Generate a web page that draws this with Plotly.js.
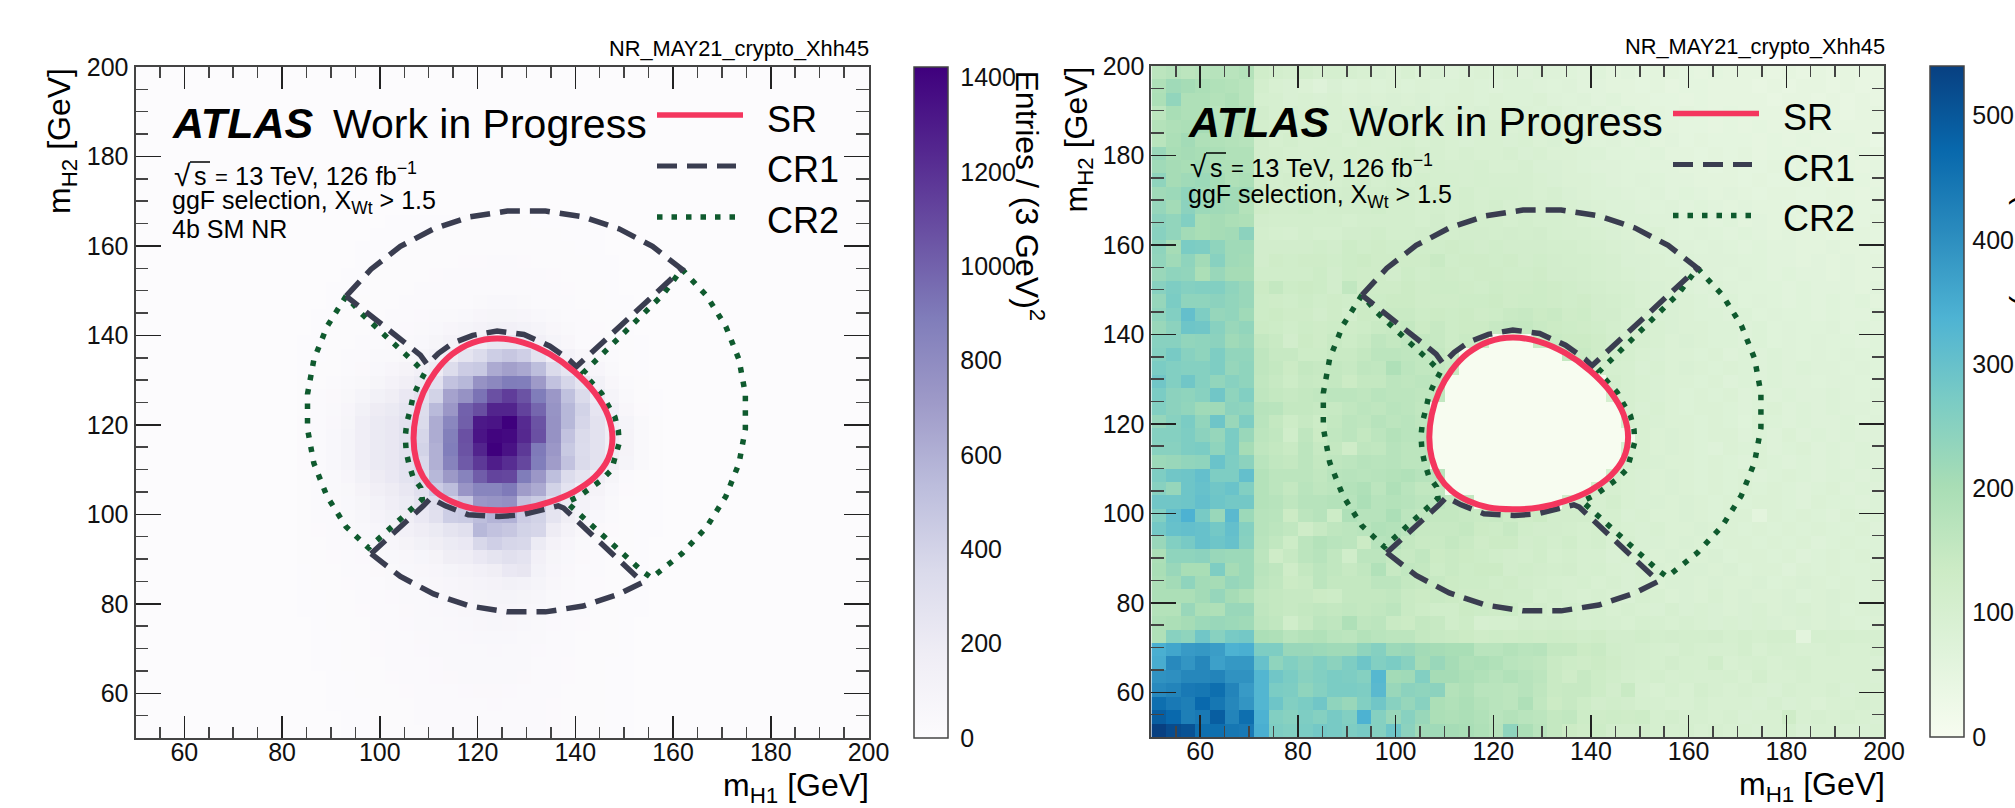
<!DOCTYPE html>
<html><head><meta charset="utf-8">
<script src="https://cdn.plot.ly/plotly-3.0.1.min.js"></script>
<style>html,body{margin:0;padding:0;background:#fff}</style></head>
<body><div id="chart" style="width:2015px;height:808px"></div>
<script>
// Bin centres of the 3 GeV bins (50 per axis)
const binCentres = [51.5,54.5,57.5,60.5,63.5,66.5,69.5,72.5,75.5,78.5,81.5,84.5,87.5,90.5,93.5,96.5,99.5,102.5,105.5,108.5,111.5,114.5,117.5,120.5,123.5,126.5,129.5,132.5,135.5,138.5,141.5,144.5,147.5,150.5,153.5,156.5,159.5,162.5,165.5,168.5,171.5,174.5,177.5,180.5,183.5,186.5,189.5,192.5,195.5,198.5];

// Left panel: signal entries. Rows start at the bottom; each row lists bins 11..38, the rest sit at the floor value.
const signalFloor = 4;
const signalFirstBin = 11;
const signalRows = [
[4,4,6,8,10,12,14,16,18,22,24,26,26,26,26,24,22,20,16,14,12,10,8,6,6,4,4,4],
[4,6,6,8,10,12,14,18,22,24,26,28,28,30,28,26,22,20,18,14,12,10,8,6,6,4,4,4],
[4,6,8,8,10,12,16,18,22,26,28,30,30,32,30,28,24,20,18,14,12,10,8,6,6,4,4,4],
[4,6,8,10,12,14,18,20,24,28,30,32,34,34,32,30,26,22,18,14,12,10,8,6,6,4,4,4],
[6,6,8,10,14,16,20,24,28,32,34,36,38,38,36,34,28,24,20,16,12,10,8,6,6,4,4,4],
[6,8,10,12,14,18,22,26,30,32,36,38,40,42,40,36,30,26,20,16,14,10,8,6,6,4,4,4],
[6,8,10,12,16,20,22,28,32,36,38,42,44,46,44,38,32,26,22,18,14,12,8,6,6,4,4,4],
[6,8,10,14,16,20,24,30,34,38,42,46,50,52,50,42,36,28,24,18,14,12,8,6,6,4,4,4],
[6,8,12,14,18,22,26,32,36,42,46,50,58,62,60,50,42,32,26,20,16,12,10,6,6,4,4,4],
[8,10,12,16,20,24,28,34,40,46,52,60,66,72,72,60,48,36,28,22,16,14,10,8,6,4,4,4],
[8,10,14,18,22,26,32,38,44,52,62,70,80,90,90,80,62,44,32,24,18,14,10,8,6,4,4,4],
[10,12,16,20,24,30,36,42,50,60,72,84,98,110,130,120,90,60,40,28,20,16,12,8,6,6,4,4],
[10,14,18,22,28,34,40,48,60,72,90,110,135,170,220,240,120,70,46,30,22,16,12,8,6,6,4,4],
[12,16,20,26,32,40,48,60,76,100,170,180,220,260,300,270,140,80,50,34,24,18,12,8,6,6,4,4],
[14,18,24,30,38,50,70,100,130,170,200,220,370,420,380,370,200,110,70,40,26,18,14,10,6,6,4,4],
[16,20,26,38,52,70,100,140,180,210,260,300,560,500,470,400,380,190,110,60,34,20,14,10,8,6,4,4],
[16,22,30,44,64,96,130,170,220,300,430,450,530,580,590,440,400,260,170,90,50,26,16,10,8,6,4,4],
[16,24,34,50,80,120,160,200,260,320,390,470,730,750,770,500,450,320,210,120,70,36,16,10,8,6,4,4],
[18,26,36,56,100,150,190,230,300,440,530,740,840,840,900,700,630,400,270,170,100,50,20,12,8,6,4,4],
[18,26,40,70,130,190,220,270,340,560,720,850,1020,1120,1110,890,730,520,340,260,170,80,30,12,8,6,4,4],
[20,30,50,90,160,210,230,280,360,600,850,1030,1170,1290,1220,1110,880,700,500,350,280,170,90,40,12,6,4,4],
[20,30,50,90,160,210,230,280,400,600,880,1060,1260,1422,1340,1170,900,730,460,340,280,180,100,40,12,6,4,4],
[20,30,50,90,160,210,230,280,380,620,870,1070,1330,1400,1380,1240,1070,760,500,350,280,180,100,40,12,6,4,4],
[20,30,46,80,160,210,230,280,350,620,830,1010,1310,1330,1420,1230,1060,760,560,380,280,170,90,40,12,6,4,4],
[18,26,40,70,130,190,210,250,330,550,730,1000,1080,1260,1260,1130,980,750,560,400,250,140,60,20,8,6,4,4],
[14,22,34,56,90,130,170,220,280,400,670,760,930,1070,1150,1060,890,730,510,350,200,90,40,14,8,6,4,4],
[12,16,24,36,56,80,110,150,200,290,500,560,760,820,890,880,710,500,380,260,130,60,24,12,6,6,4,4],
[10,12,18,26,34,48,70,100,140,190,330,440,460,630,680,640,530,350,250,120,70,36,16,10,6,4,4,4],
[8,10,16,22,28,36,44,56,80,120,190,260,340,430,470,420,280,180,110,60,40,24,14,8,6,4,4,4],
[8,10,14,18,22,28,34,40,50,80,110,130,180,230,240,220,140,90,60,30,24,16,12,8,6,4,4,4],
[6,8,12,14,18,22,26,32,40,50,70,90,110,130,140,120,90,60,40,28,20,14,10,6,6,4,4,4],
[6,8,10,12,16,18,22,26,32,36,40,50,70,80,80,70,50,40,30,22,16,12,8,6,6,4,4,4],
[6,6,8,10,12,16,18,22,26,28,30,30,40,50,50,40,30,28,24,18,14,10,8,6,4,4,4,4],
[4,6,8,8,10,14,16,18,22,24,26,28,30,30,30,30,26,24,20,16,12,10,6,6,4,4,4,4],
[4,6,6,8,10,12,14,16,18,20,22,22,24,26,26,24,22,20,18,14,10,8,6,6,4,4,4,4],
[4,4,6,6,8,10,12,14,16,18,18,20,20,22,22,20,18,16,14,12,10,8,6,4,4,4,4,4],
[4,4,6,6,8,8,10,12,14,14,16,16,18,18,18,16,16,14,12,10,8,6,6,4,4,4,4,4],
[4,4,4,6,6,8,8,10,10,12,12,14,14,14,14,14,12,12,10,8,8,6,4,4,4,4,4,4],
[4,4,4,4,6,6,8,8,10,10,10,12,12,12,12,12,10,10,8,8,6,6,4,4,4,4,4,4]
];

// Right panel: data entries with the SR blinded. Rows start at the bottom.
const dataRows = [
[540,520,510,460,460,445,440,345,265,260,270,280,275,265,275,255,290,245,215,215,205,200,190,175,240,195,170,150,135,125,130,115,115,115,105,100,105,95,100,95,95,90,95,105,90,95,95,90,90,95],
[490,470,430,440,490,420,460,340,260,250,265,255,275,260,340,255,225,250,225,195,190,195,185,170,180,170,165,150,155,130,125,130,125,130,105,110,100,100,95,100,90,95,95,125,95,100,95,100,95,90],
[460,440,430,470,445,415,390,330,290,260,270,285,240,225,260,285,250,230,250,195,185,195,180,170,165,190,155,135,145,130,115,120,115,105,100,95,95,105,95,95,95,90,100,90,95,85,95,95,100,95],
[410,420,440,445,460,420,380,330,270,265,240,255,270,270,265,320,225,245,240,245,180,190,170,170,165,175,160,140,145,145,130,115,140,100,95,105,95,110,100,95,100,95,90,100,95,95,100,90,95,95],
[395,400,415,415,420,395,395,330,285,270,250,260,270,265,255,325,210,215,260,205,205,195,185,175,185,175,165,140,125,145,130,120,110,105,110,100,105,100,100,105,95,110,95,95,100,95,95,95,95,90],
[350,410,390,415,370,385,385,300,240,260,245,260,245,265,290,260,270,250,205,225,205,190,195,185,170,165,160,140,130,125,135,125,115,110,105,115,105,105,120,95,100,105,95,100,105,95,95,95,95,90],
[345,360,380,385,375,340,345,265,265,225,225,220,215,215,240,255,220,225,210,205,200,200,170,170,180,170,175,150,150,135,140,120,115,110,105,100,110,105,100,100,110,95,105,100,95,95,100,95,95,100],
[190,250,240,285,250,275,280,195,190,170,180,185,170,165,180,170,165,165,150,145,140,135,125,130,125,130,125,130,125,120,125,115,115,120,110,115,110,110,115,105,110,105,110,110,60,105,100,105,100,100],
[190,195,205,220,225,220,215,165,155,120,145,165,160,190,160,165,140,135,150,145,120,130,100,105,105,115,110,115,110,100,105,100,95,105,100,95,100,95,90,95,90,95,90,85,90,85,90,85,80,85],
[180,180,225,195,190,225,225,160,150,145,150,155,150,155,150,155,165,140,130,120,120,135,130,125,130,110,115,105,110,100,105,95,100,95,90,100,90,95,90,85,90,95,85,90,95,85,90,80,85,90],
[195,195,195,210,230,205,190,155,150,145,145,135,130,150,150,150,155,140,135,140,135,125,125,125,120,120,105,110,100,95,100,95,90,100,95,85,90,85,95,85,90,85,85,90,80,85,90,85,80,85],
[195,210,240,210,205,230,220,165,155,135,140,165,150,150,150,165,165,150,145,145,135,130,130,120,125,115,110,105,100,105,95,100,90,95,85,90,90,85,90,85,85,90,80,85,90,85,80,85,80,85],
[200,225,200,200,265,205,220,170,160,125,150,165,155,145,155,185,145,155,150,130,140,130,135,135,115,120,115,110,115,100,105,95,90,95,90,85,90,90,85,90,80,85,85,75,85,80,85,80,80,85],
[195,240,240,245,225,220,220,165,125,145,165,175,155,120,165,165,150,145,155,135,140,135,130,120,115,110,120,105,110,100,100,90,95,90,85,90,85,85,90,80,85,85,80,85,75,80,85,80,85,80],
[225,260,275,300,290,300,250,170,155,130,165,180,170,165,135,175,180,150,140,140,150,140,125,135,135,115,120,110,120,105,110,95,100,90,90,85,90,85,80,85,85,80,85,80,85,75,80,85,80,80],
[280,300,305,300,280,305,255,175,165,155,125,145,160,165,170,185,180,165,145,145,145,150,135,130,145,120,115,115,110,105,110,100,95,90,95,85,85,90,85,85,80,85,80,85,80,85,80,80,85,75],
[260,305,340,275,225,320,220,175,170,135,165,175,130,190,175,175,195,165,155,150,150,145,140,145,130,125,135,115,115,115,100,105,90,95,85,85,90,85,80,85,85,60,85,80,85,80,75,85,80,80],
[285,285,290,305,290,280,280,180,175,160,175,175,180,175,195,175,180,175,165,165,150,150,0,0,0,0,0,0,115,115,100,110,95,90,90,85,90,85,80,85,80,85,85,80,75,85,80,80,75,80],
[250,230,290,300,285,295,260,180,165,150,170,160,165,180,190,165,190,170,155,155,0,0,0,0,0,0,0,0,0,0,105,100,95,90,85,90,85,80,85,80,85,80,85,80,75,80,85,75,80,75],
[265,285,290,305,265,265,305,180,165,165,165,155,170,175,170,175,180,185,175,170,0,0,0,0,0,0,0,0,0,0,0,105,95,90,85,90,85,80,85,80,85,75,80,85,80,75,80,80,75,80],
[220,225,235,240,295,265,245,170,155,150,165,150,160,165,175,170,175,165,165,0,0,0,0,0,0,0,0,0,0,0,0,0,100,95,90,85,85,80,85,80,75,85,80,75,80,75,80,75,80,75],
[250,250,265,270,240,270,205,160,150,140,165,145,150,125,160,155,175,165,165,0,0,0,0,0,0,0,0,0,0,0,0,0,100,95,85,90,85,80,75,85,80,85,75,80,85,75,80,75,80,75],
[255,255,265,245,230,270,225,165,155,120,160,135,155,165,150,165,180,170,170,0,0,0,0,0,0,0,0,0,0,0,0,0,0,95,85,90,85,80,85,85,75,80,75,85,75,80,75,80,75,75],
[230,250,270,235,290,225,265,170,150,130,145,130,150,165,160,175,165,170,160,0,0,0,0,0,0,0,0,0,0,0,0,0,105,95,90,85,85,80,85,80,70,85,80,75,80,75,75,80,70,75],
[260,245,235,215,215,245,240,175,170,150,150,145,145,155,165,160,170,165,155,0,0,0,0,0,0,0,0,0,0,0,0,0,100,90,95,85,80,85,85,80,75,80,85,75,80,75,80,75,75,70],
[270,245,240,250,285,240,260,160,150,145,150,155,165,165,160,170,165,165,160,155,0,0,0,0,0,0,0,0,0,0,0,105,100,95,90,85,80,85,80,85,75,80,75,80,75,75,80,75,70,75],
[285,260,285,255,235,250,240,155,145,130,145,140,150,135,150,150,165,160,165,160,0,0,0,0,0,0,0,0,0,0,0,110,100,95,90,85,85,80,85,75,80,75,80,75,75,70,75,75,70,70],
[270,260,255,255,265,230,240,160,150,135,150,145,150,145,160,155,190,165,155,150,140,0,0,0,0,0,0,0,0,0,110,105,100,90,95,85,90,85,80,85,80,75,80,75,80,75,75,70,75,70],
[255,275,250,240,265,235,235,160,145,145,130,130,140,140,150,165,165,160,155,150,135,0,0,0,0,0,0,0,150,140,125,110,105,95,90,85,85,80,85,75,80,75,80,75,70,75,70,75,70,70],
[250,250,235,240,245,215,225,150,140,115,135,125,140,130,140,160,150,160,150,145,130,140,135,0,0,0,140,140,135,135,125,115,105,100,95,85,90,85,80,80,75,80,70,75,70,75,70,70,65,70],
[225,245,290,285,250,225,235,135,130,120,130,125,130,125,130,140,145,150,135,145,130,135,135,145,150,150,140,135,130,125,120,110,105,100,95,90,85,85,80,80,75,80,70,75,70,70,75,65,70,65],
[240,260,305,265,230,235,215,130,135,125,125,115,125,110,135,130,140,140,130,135,130,135,125,130,140,145,135,140,125,130,115,115,100,100,90,90,85,80,80,75,80,70,75,70,70,65,70,65,65,70],
[230,270,240,240,245,235,225,130,125,120,130,120,125,120,130,130,135,135,125,125,125,130,130,135,125,130,130,125,120,125,115,110,105,95,90,90,85,80,75,80,70,75,70,65,70,65,70,65,70,60],
[250,265,255,260,260,240,225,135,150,130,135,130,115,155,125,125,125,135,125,130,130,125,120,130,125,125,130,125,120,115,110,105,100,95,90,85,80,75,80,75,70,70,70,65,70,65,65,65,60,65],
[225,240,235,195,225,205,205,120,120,120,120,130,115,130,125,125,115,130,120,130,125,120,125,125,120,120,125,115,115,110,105,100,95,90,85,85,80,75,75,70,75,70,65,70,65,65,60,65,60,60],
[235,215,240,210,250,215,210,115,125,120,125,125,120,130,135,125,125,125,125,140,120,125,125,120,125,115,120,115,110,110,105,100,90,90,85,80,80,75,75,75,70,70,65,65,60,65,60,65,60,60],
[240,205,270,265,240,215,215,115,115,115,115,120,115,130,120,125,120,120,120,120,125,120,115,120,115,115,115,110,110,105,100,95,90,85,80,80,75,70,75,70,65,70,65,65,60,60,65,60,60,55],
[250,235,210,200,205,210,245,110,105,100,110,105,105,115,115,120,110,110,115,115,110,115,115,110,115,110,115,105,100,100,95,90,85,80,85,75,70,75,70,65,70,65,60,65,60,60,55,60,60,55],
[245,235,260,200,205,195,190,115,110,110,110,110,110,105,110,110,110,110,105,115,105,115,110,110,105,110,105,105,100,95,90,85,80,80,75,75,70,70,65,70,60,65,60,60,55,60,60,55,55,60],
[230,210,245,220,215,210,180,125,115,115,120,110,115,115,115,120,110,110,105,110,105,110,105,110,100,105,100,100,95,90,85,80,80,75,70,75,65,70,65,60,65,60,60,55,60,55,55,60,55,55],
[215,220,240,215,210,210,215,125,115,110,115,115,110,115,110,110,115,110,105,110,105,110,100,105,105,100,95,100,90,85,80,80,75,70,75,65,70,65,60,65,60,55,60,60,55,55,60,55,50,55],
[240,205,215,220,205,190,195,120,110,115,110,115,105,110,115,105,110,105,110,105,105,100,105,100,100,100,95,90,85,85,80,75,70,75,70,65,65,60,60,60,55,60,55,55,60,55,50,55,55,50],
[215,205,200,210,190,190,185,120,110,105,115,105,110,100,105,110,100,105,100,105,100,100,105,95,95,100,90,90,85,80,75,75,70,70,65,65,60,60,55,60,55,55,60,50,55,55,50,55,50,55],
[225,200,205,200,195,185,185,115,110,105,100,105,100,105,100,100,105,110,100,100,95,100,95,95,100,90,95,85,85,80,80,70,70,65,70,60,60,55,60,55,60,50,55,55,50,55,50,50,55,50],
[170,195,210,190,185,180,175,115,105,110,100,100,105,95,105,100,100,105,95,100,95,90,95,95,90,95,85,90,80,75,70,75,65,70,60,65,55,60,55,55,55,50,55,50,55,50,50,55,50,40],
[180,190,195,205,180,175,180,110,105,100,105,100,95,100,100,95,100,95,95,90,95,90,90,95,85,90,85,80,80,75,70,70,65,65,60,60,55,55,50,55,50,55,50,50,50,55,45,50,50,50],
[165,200,190,190,170,190,185,115,100,100,95,100,95,90,95,100,90,95,90,85,90,85,90,85,90,85,80,85,75,70,75,65,70,60,60,55,60,55,50,55,50,50,50,45,50,50,50,45,50,50],
[195,235,190,190,180,190,170,105,100,90,95,90,95,85,90,85,90,85,90,80,85,85,80,85,80,80,85,75,70,75,65,70,60,60,55,55,50,55,50,50,50,50,45,50,50,45,50,45,50,45],
[190,215,205,195,185,180,170,110,95,90,85,75,90,80,85,80,85,80,85,80,80,85,80,75,80,80,75,70,75,65,65,60,60,55,60,50,55,55,50,50,50,45,50,45,50,50,45,50,45,45],
[165,175,165,170,175,170,180,120,110,105,110,100,105,100,95,90,85,95,80,90,75,80,85,80,85,75,80,75,70,65,70,60,65,55,60,60,55,50,55,50,50,50,45,50,45,50,45,50,45,45]
];

// Region outlines (mH1, mH2 in GeV)
const srX = [147.6,146.7,143.95,139.8,134.8,129.35,124,119.07,114.8,111.4,108.9,107.4,106.9,107.4,108.9,111.4,114.8,119.07,124,129.35,134.8,139.8,143.95,146.7,147.6];
const srY = [117,122.05,127.2,131.9,135.8,138.4,139.3,138.4,135.8,131.9,127.2,122.05,117,112.35,108.3,105.1,102.8,101.3,100.9,101.3,102.8,105.1,108.3,112.35,117];
const cr1TopX = [93.1,98.2,104.2,111,118.4,126.1,133.9,141.6,149,155.8,161.8,160.7,140.2,138.8,134.8,129.5,124,119,115,112,109.7,108.3,93.1];
const cr1TopY = [148.8,154.8,159.9,163.8,166.5,167.8,167.8,166.5,163.8,159.9,154.8,153.7,133,134.5,137.6,140.2,141,140,138.3,136,133.5,135.6,148.8];
const cr1BottomX = [98.2,104.2,111,118.4,126.1,133.9,141.6,149,153.8,137.6,136.5,134.1,129,124.3,118.1,113.4,110.4,108.9,98.2];
const cr1BottomY = [91.2,86.1,82.2,79.5,78.2,78.2,79.5,82.2,84.8,101.4,101.9,101.2,99.9,99.5,99.9,101.9,103.6,101.9,91.2];
const cr2LeftX = [93.1,89.2,86.5,85.2,85.2,86.5,89.2,93.1,97.7,108.7,108.4,106.8,106,105.4,105.2,105.5,106.2,106.8,107.9,109.2,107.2,96.3,93.1];
const cr2LeftY = [148.8,142,134.6,126.9,119.1,111.4,104,97.2,92.5,103.4,105.9,108.3,111,114,117.3,120.4,123.3,126.3,129,131.6,133.8,144.8,148.8];
const cr2RightX = [161.8,166.9,170.8,173.5,174.8,174.8,173.5,170.8,166.9,161.8,155.6,153.7,140.3,138.2,140.9,143.1,145.4,147.4,148.3,149,148.8,148.1,146.7,145.4,141.6,158,161.8];
const cr2RightY = [154.8,148.8,142,134.6,126.9,119.1,111.4,104,97.2,91.2,85.8,87.3,100.6,102.7,104.1,105.9,107.7,109.9,112.8,116,118.8,121.8,124.4,127,131.6,149.2,154.8];

const leftColorscale = [[0,'#fcfbfd'],[0.125,'#efedf5'],[0.25,'#dadaeb'],[0.375,'#bcbddc'],[0.5,'#9e9ac8'],[0.625,'#807dba'],[0.75,'#6a51a3'],[0.875,'#54278f'],[1,'#3f007d']];
const rightColorscale = [[0,'#f7fcf0'],[0.125,'#e0f3db'],[0.25,'#ccebc5'],[0.375,'#a8ddb5'],[0.5,'#7bccc4'],[0.625,'#4eb3d3'],[0.75,'#2b8cbe'],[0.875,'#0868ac'],[1,'#084081']];
const leftTicks = [0,200,400,600,800,1000,1200,1400];
const rightTicks = [0,100,200,300,400,500];
const leftMax = 1422, rightMax = 540;
const runLabel = 'NR_MAY21_crypto_Xhh45';
const FONT = '"Liberation Sans", Arial, sans-serif';
const SR_COL='#f4365e', CR1_COL='#3a3d50', CR2_COL='#0f5a2e';
const W=2015, H=808;
const px=x=>x/W, py=y=>1-y/H;

const signalZ = [];
for (let j=0;j<binCentres.length;j++){
  const row = new Array(binCentres.length).fill(signalFloor);
  (signalRows[j]||[]).forEach((v,i)=>{row[signalFirstBin+i]=v;});
  signalZ.push(row);
}

const heat=(z,cs,zmax,ticks,xa,ya,cbx,pad,top,bot)=>({
  type:'heatmap',x:binCentres,y:binCentres,z:z,xaxis:xa,yaxis:ya,colorscale:cs,zmin:0,zmax:zmax,zsmooth:false,hoverinfo:'skip',
  colorbar:{x:px(cbx),xanchor:'left',xpad:0,ypad:0,y:py(bot),yanchor:'bottom',len:(bot-top)/H,lenmode:'fraction',thickness:34,thicknessmode:'pixels',
    outlinewidth:1.5,outlinecolor:'#444',borderwidth:0,tickmode:'array',tickvals:ticks,ticktext:ticks.map(String),ticks:'outside',ticklen:pad,tickcolor:'rgba(0,0,0,0)',
    tickfont:{family:FONT,size:25,color:'#111'}}
});
const line=(x,y,xa,ya,name,col,w,dash,shape)=>({type:'scatter',mode:'lines',x,y,xaxis:xa,yaxis:ya,name,showlegend:false,hoverinfo:'skip',
  line:{color:col,width:w,dash:dash,shape:shape||'linear',smoothing:1}});
const DASH='20px,10px', DOT='5.5px,9px';
const overlays=(xa,ya)=>[
  line(cr2LeftX,cr2LeftY,xa,ya,'CR2',CR2_COL,5.5,DOT),
  line(cr2RightX,cr2RightY,xa,ya,'CR2',CR2_COL,5.5,DOT),
  line(cr1TopX,cr1TopY,xa,ya,'CR1',CR1_COL,5.5,DASH),
  line(cr1BottomX,cr1BottomY,xa,ya,'CR1',CR1_COL,5.5,DASH),
  line(srX,srY,xa,ya,'SR',SR_COL,6,'solid','spline')
];
const data=[
  heat(signalZ,leftColorscale,leftMax,leftTicks,'x','y',913.7,7,67,738),
  heat(dataRows,rightColorscale,rightMax,rightTicks,'x2','y2',1929.8,3,66,737),
  ...overlays('x','y'),...overlays('x2','y2')
];

const axis=(dom,anchor,len,standoff)=>({domain:dom,anchor:anchor,range:[50,200],tick0:0,dtick:20,ticks:'inside',ticklen:len,tickwidth:1.5,tickcolor:'#222',
  minor:{dtick:5,tick0:0,ticks:'inside',ticklen:len/2,tickwidth:1.5,tickcolor:'#444',showgrid:false},
  showgrid:false,zeroline:false,showline:true,linecolor:'#444',linewidth:2,mirror:'allticks',
  tickfont:{family:FONT,size:25,color:'#111'},ticklabelstandoff:standoff});

const ann=(text,x,y,size,xanchor,yanchor,extra)=>Object.assign({text,x:px(x),y:py(y),xref:'paper',yref:'paper',showarrow:false,xanchor,yanchor,
  font:{family:FONT,size,color:'#000'},borderpad:0,borderwidth:0},extra||{});
const annotations=[], shapes=[];
const panel=(dx,dy,ext,sqrtBase,ggfBottom,cbTitleX)=>{
  annotations.push(ann(runLabel,868.5+dx,60.5+dy,21.8,'right','bottom'));
  annotations.push(ann('<b><i>ATLAS</i></b>',172+dx,147+dy,43,'left','bottom'));
  annotations.push(ann('Work in Progress',333+dx,147+dy,41,'left','bottom'));
  annotations.push(ann('√',174+dx,sqrtBase+8,30,'left','bottom'));
  annotations.push(ann('s',194+dx,sqrtBase+6.5,25,'left','bottom'));
  annotations.push(ann('=',215+dx,sqrtBase+5.5,22,'left','bottom'));
  annotations.push(ann('13 TeV, 126 fb<sup>−1</sup>',235+dx,sqrtBase+6.5,25.5,'left','bottom'));
  annotations.push(ann('ggF selection, X<sub>Wt</sub> &gt; 1.5',172+dx,ggfBottom,25,'left','bottom'));
  if(ext) annotations.push(ann('4b SM NR',172+dx,243,25,'left','bottom'));
  annotations.push(ann('SR',767+dx,119+dy,36,'left','middle'));
  annotations.push(ann('CR1',767+dx,170+dy,36,'left','middle'));
  annotations.push(ann('CR2',767+dx,220+dy,36,'left','middle'));
  annotations.push(ann('m<sub>H1</sub> [GeV]',868.5+dx,808+dy,32,'right','bottom'));
  annotations.push(ann('m<sub>H2</sub> [GeV]',62+dx,68+dy,32,'center','top',{textangle:-90}));
  annotations.push(ann('Entries / (3 GeV)<sup>2</sup>',cbTitleX,70+dy,32,'center','top',{textangle:90}));
  const seg=(x0,x1,y,col,w,dash)=>shapes.push({type:'line',xref:'paper',yref:'paper',x0:px(x0+dx),x1:px(x1+dx),y0:py(y+dy),y1:py(y+dy),line:{color:col,width:w,dash:dash}});
  seg(657,743,115,SR_COL,5.5,'solid');
  seg(657,736,166,CR1_COL,5,DASH);
  seg(657,736,217,CR2_COL,5.5,DOT);
  shapes.push({type:'line',xref:'paper',yref:'paper',x0:px(190+dx),x1:px(210+dx),y0:py(sqrtBase-22),y1:py(sqrtBase-22),line:{color:'#000',width:1.5}});
};
panel(0,0,true,184,218,1029);
panel(1016,-1.5,false,175,212,2029);

const layout={width:W,height:H,margin:{l:0,r:0,t:0,b:0,pad:0},paper_bgcolor:'#fff',plot_bgcolor:'#fff',showlegend:false,
  xaxis:axis([px(135.5),px(868.5)],'y',22,-9),yaxis:axis([py(738),py(67)],'x',25,0),
  xaxis2:axis([px(1151.4),px(1884)],'y2',22,-9),yaxis2:axis([py(737),py(66)],'x2',25,0),
  annotations,shapes};
Plotly.newPlot('chart',data,layout,{displayModeBar:false,staticPlot:true});
</script></body></html>
